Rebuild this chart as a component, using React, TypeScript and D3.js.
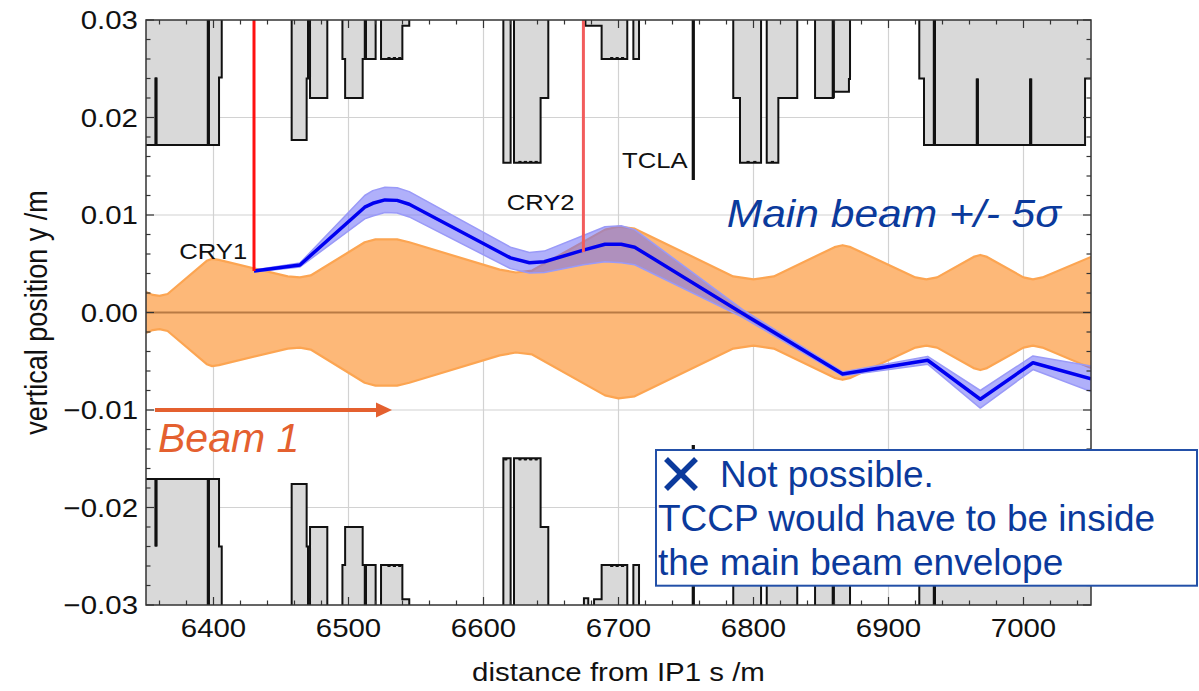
import React from "react";
import * as d3 from "d3";

const BIG = 0.05;

const xTicks = [6400, 6500, 6600, 6700, 6800, 6900, 7000];
const yTicks = [-0.03, -0.02, -0.01, 0, 0.01, 0.02, 0.03];
const yTickLabels = ["\u22120.03", "\u22120.02", "\u22120.01", "0.00", "0.01", "0.02", "0.03"];

// Beam 1 envelope (half width, symmetric about 0)
const envS = [6350, 6355, 6360, 6366, 6395, 6399, 6404, 6455, 6464, 6472, 6512, 6520, 6536, 6545, 6612, 6624, 6636, 6690, 6700, 6712, 6785, 6800, 6815, 6860, 6866, 6872, 6920, 6928, 6936, 6963, 6968, 6973, 7000, 7007, 7014, 7050];
const envH = [0.0021, 0.0018, 0.0017, 0.0019, 0.0053, 0.0055, 0.0054, 0.0037, 0.0036, 0.0038, 0.0072, 0.0075, 0.0075, 0.0072, 0.0044, 0.0041, 0.0043, 0.0085, 0.0088, 0.0086, 0.0037, 0.0034, 0.0037, 0.0067, 0.0069, 0.0067, 0.0036, 0.0034, 0.0036, 0.0057, 0.0059, 0.0057, 0.0036, 0.0034, 0.0036, 0.0057];

// Main beam centre and 5 sigma half width
const beamS = [6430, 6464, 6512, 6518, 6527, 6536, 6545, 6620, 6634, 6645, 6674, 6690, 6702, 6712, 6792, 6866, 6929, 6968, 7007, 7050];
const beamC = [0.00426, 0.00487, 0.0108, 0.0112, 0.01155, 0.0115, 0.0111, 0.0056, 0.0051, 0.0052, 0.0064, 0.007, 0.007, 0.0067, -0.0001, -0.0063, -0.0049, -0.0089, -0.00515, -0.0068];
const beamH = [0.0001, 0.0002, 0.0012, 0.0013, 0.0013, 0.0013, 0.0013, 0.0011, 0.00105, 0.0011, 0.0015, 0.0018, 0.0019, 0.0018, 0.0004, 0.0002, 0.0004, 0.0009, 0.0007, 0.0013];

// Crystals
const crystals = [
  { name: "CRY1", s: 6430, y: 0.00426, color: "#ff1010" },
  { name: "CRY2", s: 6674, y: 0.0062, color: "#f25c5c" },
];

// Aperture outlines [s, y]
const topAperture: [number, number][] = [
  [6340, 0.01718], [6357.4, 0.01718], [6357.4, 0.0241], [6357.4, 0.01718],
  [6396.2, 0.01718], [6396.2, BIG], [6396.2, 0.01718],
  [6404.1, 0.01718], [6404.1, 0.0241], [6406.1, 0.0241], [6406.1, BIG],
  [6457.9, BIG], [6457.9, 0.01769], [6469, 0.01769], [6469, 0.024], [6470, 0.024], [6470, BIG],
  [6471.5, BIG], [6471.5, 0.022], [6484.3, 0.022], [6484.3, BIG],
  [6495.5, BIG], [6495.5, 0.026], [6497.5, 0.026], [6497.5, 0.022], [6510.5, 0.022], [6510.5, 0.026],
  [6512.5, 0.026], [6512.5, BIG], [6512.5, 0.026], [6520.1, 0.026], [6520.1, BIG],
  [6524.1, BIG], [6524.1, 0.026], [6530, 0.026], [6530, 0.0262], [6530, 0.026], [6534, 0.026], [6534, 0.0262], [6534, 0.026],
  [6538, 0.026], [6538, 0.0262], [6538, 0.026], [6539.9, 0.026], [6539.9, 0.0294], [6545, 0.0294], [6545, BIG],
  [6614.7, BIG], [6614.7, 0.01535], [6620.1, 0.01535], [6620.1, BIG],
  [6622.6, BIG], [6622.6, 0.01535], [6627, 0.01535], [6627, 0.01555], [6627, 0.01535], [6631, 0.01535], [6631, 0.01555], [6631, 0.01535],
  [6635, 0.01535], [6635, 0.01555], [6635, 0.01535], [6639, 0.01535], [6639, 0.01555], [6639, 0.01535],
  [6642.3, 0.01535], [6642.3, 0.022], [6648, 0.022], [6648, BIG],
  [6675.5, BIG], [6675.5, 0.0294], [6687.5, 0.0294], [6687.5, 0.026], [6695, 0.026], [6695, 0.0262], [6695, 0.026],
  [6699, 0.026], [6699, 0.0262], [6699, 0.026], [6703, 0.026], [6703, 0.0262], [6703, 0.026], [6706.5, 0.026], [6706.5, BIG],
  [6711, BIG], [6711, 0.026], [6715.2, 0.026], [6715.2, BIG],
  [6755.4, BIG], [6755.4, 0.0136], [6755.4, BIG],
  [6785, BIG], [6785, 0.022], [6790, 0.022], [6790, 0.01535], [6796, 0.01535], [6796, 0.01555], [6796, 0.01535],
  [6801, 0.01535], [6801, 0.01555], [6801, 0.01535], [6805.6, 0.01535], [6805.6, BIG],
  [6809.8, BIG], [6809.8, 0.01535], [6814, 0.01535], [6814, 0.01555], [6814, 0.01535], [6818.4, 0.01535], [6818.4, 0.022], [6832.4, 0.022], [6832.4, BIG],
  [6845.6, BIG], [6845.6, 0.022], [6859.1, 0.022], [6859.1, BIG], [6859.1, 0.02265], [6870.7, 0.02265], [6870.7, 0.02395], [6871.5, 0.02395], [6871.5, BIG],
  [6922.8, BIG], [6922.8, 0.024], [6926.3, 0.024], [6926.3, 0.01718], [6934, 0.01718], [6934, BIG], [6934, 0.01718],
  [6965.8, 0.01718], [6965.8, 0.024], [6965.8, 0.01718], [7005.3, 0.01718], [7005.3, 0.024], [7005.3, 0.01718],
  [7045.6, 0.01718], [7045.6, 0.024], [7060, 0.024],
];

const bottomAperture: [number, number][] = [
  [6340, -0.01708], [6357.4, -0.01708], [6357.4, -0.024], [6357.4, -0.01708],
  [6396.2, -0.01708], [6396.2, -BIG], [6396.2, -0.01708],
  [6404.1, -0.01708], [6404.1, -0.024], [6406.1, -0.024], [6406.1, -BIG],
  [6457.9, -BIG], [6457.9, -0.01759], [6469, -0.01759], [6469, -0.024], [6470, -0.024], [6470, -BIG],
  [6471.5, -BIG], [6471.5, -0.022], [6484.3, -0.022], [6484.3, -BIG],
  [6495.5, -BIG], [6495.5, -0.0259], [6497.5, -0.0259], [6497.5, -0.022], [6510.5, -0.022], [6510.5, -0.0259],
  [6512.5, -0.0259], [6512.5, -BIG], [6512.5, -0.0259], [6520.1, -0.0259], [6520.1, -BIG],
  [6524.1, -BIG], [6524.1, -0.0259], [6530, -0.0259], [6530, -0.0261], [6530, -0.0259], [6534, -0.0259], [6534, -0.0261], [6534, -0.0259],
  [6538, -0.0259], [6538, -0.0261], [6538, -0.0259], [6539.9, -0.0259], [6539.9, -0.0294], [6545, -0.0294], [6545, -BIG],
  [6614.7, -BIG], [6614.7, -0.01496], [6616.5, -0.01496], [6616.5, -0.01516], [6616.5, -0.01496], [6620.1, -0.01496], [6620.1, -BIG],
  [6622.6, -BIG], [6622.6, -0.01496], [6627, -0.01496], [6627, -0.01516], [6627, -0.01496], [6631, -0.01496], [6631, -0.01516], [6631, -0.01496],
  [6635, -0.01496], [6635, -0.01516], [6635, -0.01496], [6639, -0.01496], [6639, -0.01516], [6639, -0.01496],
  [6642.3, -0.01496], [6642.3, -0.022], [6648, -0.022], [6648, -BIG],
  [6674.4, -BIG], [6674.4, -0.0293], [6677.6, -0.0293], [6677.6, -BIG],
  [6681.9, -BIG], [6681.9, -0.0294], [6687.5, -0.0294], [6687.5, -0.0259], [6695, -0.0259], [6695, -0.0261], [6695, -0.0259],
  [6699, -0.0259], [6699, -0.0261], [6699, -0.0259], [6703, -0.0259], [6703, -0.0261], [6703, -0.0259], [6706.5, -0.0259], [6706.5, -BIG],
  [6711, -BIG], [6711, -0.0259], [6715.2, -0.0259], [6715.2, -BIG],
  [6755.4, -BIG], [6755.4, -0.0136], [6755.4, -BIG],
  [6785, -BIG], [6785, -0.022], [6790, -0.022], [6790, -0.01535], [6805.6, -0.01535], [6805.6, -BIG],
  [6809.8, -BIG], [6809.8, -0.01535], [6818.4, -0.01535], [6818.4, -0.022], [6832.4, -0.022], [6832.4, -BIG],
  [6845.6, -BIG], [6845.6, -0.022], [6859.1, -0.022], [6859.1, -BIG], [6859.1, -0.02265], [6870.7, -0.02265], [6870.7, -0.02395], [6871.5, -0.02395], [6871.5, -BIG],
  [6922.8, -BIG], [6922.8, -0.024], [6926.3, -0.024], [6926.3, -0.01708], [6934, -0.01708], [6934, -BIG], [6934, -0.01708],
  [6965.8, -0.01708], [6965.8, -0.024], [6965.8, -0.01708], [7005.3, -0.01708], [7005.3, -0.024], [7005.3, -0.01708],
  [7045.6, -0.01708], [7045.6, -0.024], [7060, -0.024],
];

const W = 1199;
const H = 691;
const L = 146, R = 1091, T = 20, B = 605;
const SX = 1.15; // horizontal stretch of plot texts

const x = d3.scaleLinear().domain([6350, 7050]).range([L, R]);
const y = d3.scaleLinear().domain([-0.03, 0.03]).range([B, T]);

function spikes(pts: [number, number][]) {
  const out: [number, number, number][] = [];
  for (let i = 1; i < pts.length - 1; i++) {
    if (pts[i - 1][0] === pts[i][0] && pts[i + 1][0] === pts[i][0]) {
      out.push([pts[i][0], pts[i - 1][1], pts[i][1]]);
    }
  }
  return out;
}

function Aperture({ pts, top }: { pts: [number, number][]; top: boolean }) {
  const area = d3
    .area<[number, number]>()
    .x((d) => x(d[0]))
    .y0(() => y(top ? BIG : -BIG))
    .y1((d) => y(d[1]));
  const line = d3
    .line<[number, number]>()
    .x((d) => x(d[0]))
    .y((d) => y(d[1]));
  return (
    <g>
      <path d={area(pts) || ""} fill="#d9d9d9" stroke="none" />
      <path d={line(pts) || ""} fill="none" stroke="#111" strokeWidth={2} strokeLinejoin="miter" />
      {spikes(pts).map((s, i) => (
        <line key={i} x1={x(s[0])} x2={x(s[0])} y1={y(s[1])} y2={y(s[2])} stroke="#111" strokeWidth={3.2} />
      ))}
    </g>
  );
}

function SText(props: { x: number; y: number; size: number; anchor?: string; fill?: string; children: React.ReactNode; italic?: boolean; sx?: number }) {
  const sx = props.sx ?? SX;
  return (
    <text
      transform={`translate(${props.x},${props.y}) scale(${sx},1)`}
      fontSize={props.size}
      textAnchor={props.anchor || "start"}
      fill={props.fill || "#111"}
      fontStyle={props.italic ? "italic" : "normal"}
      fontFamily="'Liberation Sans', Arial, sans-serif"
    >
      {props.children}
    </text>
  );
}

export default function App() {
  const envIdx = envS.map((_, i) => i);
  const envArea = d3
    .area<number>()
    .x((i) => x(envS[i]))
    .y0((i) => y(-envH[i]))
    .y1((i) => y(envH[i]));
  const envUp = d3.line<number>().x((i) => x(envS[i])).y((i) => y(envH[i]));
  const envLo = d3.line<number>().x((i) => x(envS[i])).y((i) => y(-envH[i]));

  const bIdx = beamS.map((_, i) => i);
  const bandArea = d3
    .area<number>()
    .x((i) => x(beamS[i]))
    .y0((i) => y(beamC[i] - beamH[i]))
    .y1((i) => y(beamC[i] + beamH[i]));
  const bandUp = d3.line<number>().x((i) => x(beamS[i])).y((i) => y(beamC[i] + beamH[i]));
  const bandLo = d3.line<number>().x((i) => x(beamS[i])).y((i) => y(beamC[i] - beamH[i]));
  const beamLine = d3.line<number>().x((i) => x(beamS[i])).y((i) => y(beamC[i]));

  const minorX = d3.range(6360, 7050, 20);
  const minorY = d3.range(-0.03, 0.0301, 0.002);

  const blue = "#0b3a9c";

  return (
    <svg width={W} height={H} style={{ position: "absolute", left: 0, top: 0, background: "#fff" }} fontFamily="'Liberation Sans', Arial, sans-serif">
      <defs>
        <clipPath id="plot">
          <rect x={L} y={T} width={R - L} height={B - T} />
        </clipPath>
      </defs>
      <rect x={0} y={0} width={W} height={H} fill="#fff" />
      {/* grid */}
      <g stroke="#d2d2d2" strokeWidth={1.2}>
        {xTicks.map((t) => (
          <line key={t} x1={x(t)} x2={x(t)} y1={T} y2={B} />
        ))}
        {yTicks.filter((t) => Math.abs(t) < 0.029 && t !== 0).map((t) => (
          <line key={t} x1={L} x2={R} y1={y(t)} y2={y(t)} />
        ))}
      </g>
      <g clipPath="url(#plot)">
        {/* beam 1 envelope */}
        <path d={envArea(envIdx) || ""} fill="#fdb878" />
        <path d={envUp(envIdx) || ""} fill="none" stroke="#fca552" strokeWidth={2.2} strokeLinejoin="round" />
        <path d={envLo(envIdx) || ""} fill="none" stroke="#fca552" strokeWidth={2.2} strokeLinejoin="round" />
        <line x1={L} x2={R} y1={y(0)} y2={y(0)} stroke="#b87a44" strokeWidth={2} />
        {/* main beam */}
        <path d={bandArea(bIdx) || ""} fill="#6f6ff5" fillOpacity={0.55} />
        <path d={bandUp(bIdx) || ""} fill="none" stroke="#9a9af8" strokeWidth={1.5} strokeLinejoin="round" />
        <path d={bandLo(bIdx) || ""} fill="none" stroke="#9a9af8" strokeWidth={1.5} strokeLinejoin="round" />
        <path d={beamLine(bIdx) || ""} fill="none" stroke="#0000f0" strokeWidth={3.5} strokeLinejoin="round" />
        {/* apertures */}
        <Aperture pts={topAperture} top={true} />
        <Aperture pts={bottomAperture} top={false} />
        {/* crystals */}
        {crystals.map((c) => (
          <line key={c.name} x1={x(c.s)} x2={x(c.s)} y1={T} y2={y(c.y)} stroke={c.color} strokeWidth={3} />
        ))}
      </g>
      {/* frame */}
      <rect x={L} y={T} width={R - L} height={B - T} fill="none" stroke="#333" strokeWidth={1.5} />
      <g stroke="#333" strokeWidth={1.2}>
        {minorX.map((t) => {
          const len = t % 100 === 0 ? 8 : 4.5;
          return (
            <g key={t}>
              <line x1={x(t)} x2={x(t)} y1={B} y2={B - len} />
              <line x1={x(t)} x2={x(t)} y1={T} y2={T + len} />
            </g>
          );
        })}
        {minorY.map((t, i) => {
          const len = i % 5 === 0 ? 8 : 4.5;
          return (
            <g key={i}>
              <line x1={L} x2={L + len} y1={y(t)} y2={y(t)} />
              <line x1={R} x2={R - len} y1={y(t)} y2={y(t)} />
            </g>
          );
        })}
      </g>
      {/* tick labels */}
      {xTicks.map((t) => (
        <SText key={t} x={x(t)} y={637} size={25.6} anchor="middle">
          {String(t)}
        </SText>
      ))}
      {yTicks.map((t, i) => (
        <SText key={t} x={138} y={y(t) + 9.2} size={25.6} anchor="end">
          {yTickLabels[i]}
        </SText>
      ))}
      <SText x={(L + R) / 2} y={681} size={25.6} anchor="middle">
        distance from IP1 s /m
      </SText>
      <text
        transform={`translate(47,${(T + B) / 2}) scale(${SX},1) rotate(-90)`}
        fontSize={27}
        textAnchor="middle"
        fill="#111"
      >
        vertical position y /m
      </text>
      {/* element labels */}
      <SText x={179.3} y={259.3} size={22.3}>CRY1</SText>
      <SText x={506.7} y={210} size={22.3}>CRY2</SText>
      <SText x={622} y={168} size={22.3}>TCLA</SText>
      <SText x={726.7} y={227.3} size={38} italic fill={blue} sx={1.12}>
        Main beam +/- 5σ
      </SText>
      {/* Beam 1 arrow */}
      <line x1={155} x2={378} y1={410} y2={410} stroke="#e4602f" strokeWidth={4} />
      <polygon points="376,402.5 392,410 376,417.5" fill="#e4602f" />
      <text x={158} y={451.7} fontSize={41} fontStyle="italic" fill="#e4602f">
        Beam 1
      </text>
      {/* note box */}
      <rect x={656} y={450} width={541} height={135.7} fill="#fff" stroke="#2350a8" strokeWidth={2} />
      <g stroke={blue} strokeWidth={5.5} strokeLinecap="butt">
        <line x1={666} y1={459} x2={696} y2={489} />
        <line x1={696} y1={459} x2={666} y2={489} />
      </g>
      <text x={720} y={486.7} fontSize={37} fill={blue}>Not possible.</text>
      <text x={658} y={530.7} fontSize={37} fill={blue}>TCCP would have to be inside</text>
      <text x={658} y={575} fontSize={37} fill={blue}>the main beam envelope</text>
    </svg>
  );
}
